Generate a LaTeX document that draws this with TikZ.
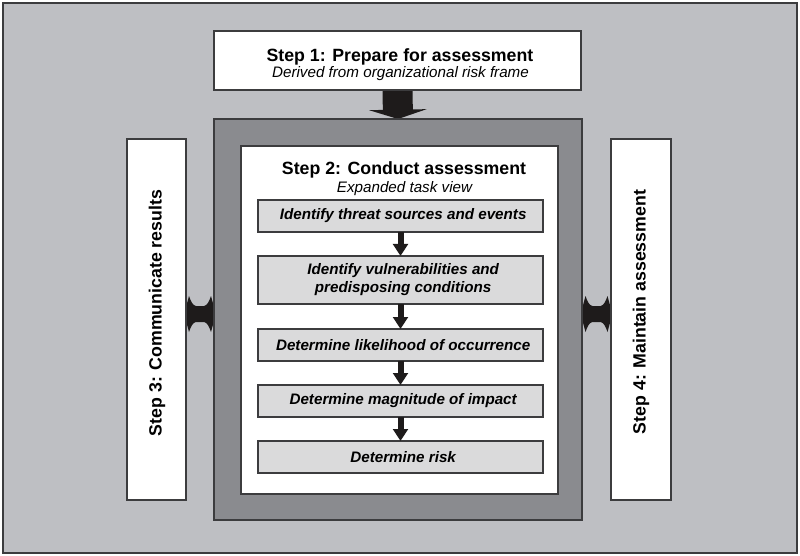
\documentclass[tikz,border=0pt]{standalone}
\usepackage{fontspec}
\setmainfont{Liberation Sans}
\usetikzlibrary{arrows.meta,calc}
\pgfdeclarelayer{back}
\pgfdeclarelayer{mid}
\pgfsetlayers{back,mid,main}
\definecolor{bgc}{HTML}{BEBFC3}
\definecolor{framec}{HTML}{8A8B8F}
\definecolor{taskc}{HTML}{DADADB}
\definecolor{linec}{HTML}{3C3C3E}
\definecolor{arrc}{HTML}{1E1B1B}
\begin{document}
\begin{tikzpicture}[x=0.75pt,y=-0.75pt,
  box/.style={draw=linec,line width=1.1pt,inner sep=0pt,outer sep=0pt},
  whitebox/.style={box,fill=white},
  taskbox/.style={box,fill=taskc,minimum width=213.75pt,align=center,
    font=\fontsize{11.4}{13.6}\selectfont\bfseries\itshape},
  ttl/.style={anchor=base,inner sep=0pt,font=\fontsize{13.3}{16}\selectfont\bfseries},
  sub/.style={anchor=base,inner sep=0pt,font=\fontsize{11.4}{13.6}\selectfont\itshape},
  vtxt/.style={rotate=90,inner sep=0pt,font=\fontsize{13.3}{16}\selectfont\bfseries},
  bigarrow/.style={draw=arrc,line width=22.5pt,-{Triangle[width=43pt,length=7pt]}},
  smallarrow/.style={draw=arrc,line width=4.5pt,-{Triangle[width=11pt,length=9pt]}},
  dblarr/.pic={\fill[arrc] (-11,-18) -- (-14,-7) -- (-14,7) -- (-11,18)
      .. controls (-9,12) and (-7,8.5) .. (-4,8) -- (4,8)
      .. controls (7,8.5) and (9,12) .. (11,18) -- (14,7) -- (14,-7) -- (11,-18)
      .. controls (9,-12) and (7,-8.5) .. (4,-8) -- (-4,-8)
      .. controls (-7,-8.5) and (-9,-12) .. (-11,-18) -- cycle;}
]
\useasboundingbox (0,0) rectangle (800,556);
\begin{pgfonlayer}{back}
\fill[white] (0,0) rectangle (800,556);
\node[box,fill=bgc,line width=1.5pt,minimum width=595.5pt,minimum height=412.5pt] (outer) at (400,278) {};
\end{pgfonlayer}
% Step 1
\node[whitebox,minimum width=275.25pt,minimum height=44.25pt] (s1) at (397.5,60.5) {};
\node[ttl] (s1t) at (400,62) {Step 1: Prepare for assessment};
\node[sub] (s1s) at (400.5,78) {Derived from organizational risk frame};
% Step 2 frame
\node[box,fill=framec,minimum width=276pt,minimum height=300.75pt] (frame) at (398,319.5) {};
\node[whitebox,minimum width=237.75pt,minimum height=261pt] (inner) at (399.5,320) {};
\node[ttl] (s2t) at (404,175) {Step 2: Conduct assessment};
\node[sub] (s2s) at (404.5,193) {Expanded task view};
% tasks
\node[taskbox,minimum height=24pt] (t1) at (400.5,216) {\hspace*{4pt}Identify threat sources and events};
\node[taskbox,minimum height=36pt] (t2) at (400.5,280) {\hspace*{4pt}Identify vulnerabilities and\\\hspace*{4pt}predisposing conditions};
\node[taskbox,minimum height=24pt] (t3) at (400.5,345) {\hspace*{4pt}Determine likelihood of occurrence};
\node[taskbox,minimum height=24pt] (t4) at (400.5,401) {\hspace*{4pt}Determine magnitude of impact};
\node[taskbox,minimum height=24pt] (t5) at (400.5,457) {\hspace*{4pt}Determine risk};
% Step 3 and Step 4
\node[whitebox,minimum width=44.25pt,minimum height=270.75pt] (s3) at (156.5,319.5) {};
\node[vtxt] (s3t) at (157,313) {Step 3: Communicate results};
\node[whitebox,minimum width=45pt,minimum height=270.75pt] (s4) at (641,319.5) {};
\node[vtxt] (s4t) at (641,312) {Step 4: Maintain assessment};
% connectors
\begin{pgfonlayer}{mid}
\draw[bigarrow] (s1.south) -- (frame.north);
\pic at ($(s3.east)!0.5!(frame.west)+(0,-5.5)$) {dblarr};
\pic at ($(frame.east)!0.5!(s4.west)+(0,-5.5)$) {dblarr};
\end{pgfonlayer}
\draw[smallarrow] (t1.south) -- (t2.north);
\draw[smallarrow] (t2.south) -- (t3.north);
\draw[smallarrow] (t3.south) -- (t4.north);
\draw[smallarrow] (t4.south) -- (t5.north);
\end{tikzpicture}
\end{document}
